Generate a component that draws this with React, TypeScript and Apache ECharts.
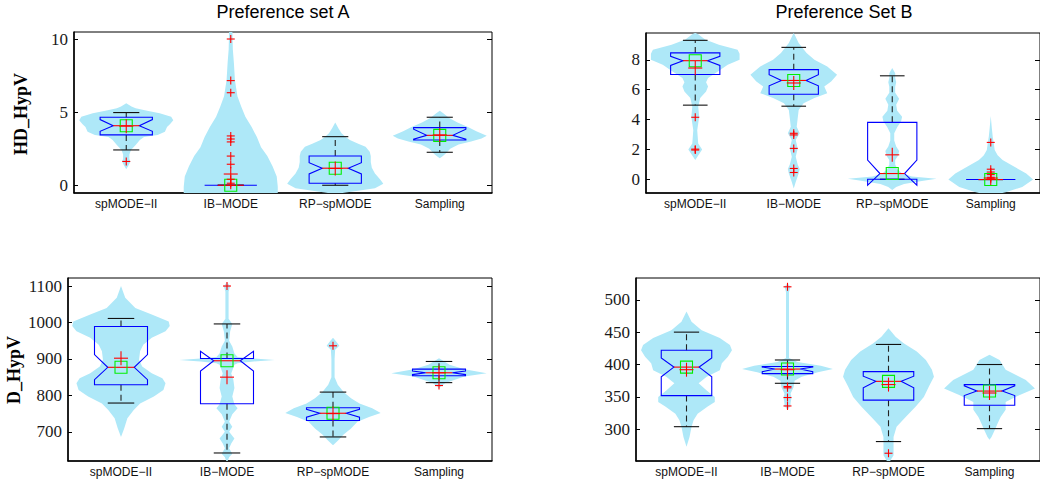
import React, { useEffect, useRef } from 'react';
import * as echarts from 'echarts';

const categories = ['spMODE−II', 'IB−MODE', 'RP−spMODE', 'Sampling'];

// box rows: [whiskerLow, q1, notchLow, median, notchHigh, q3, whiskerHigh]
const boxA = [
  [2.42, 3.45, 3.70, 4.08, 4.50, 4.66, 4.98],
  [0, 0, 0, 0, 0, 0, 0],
  [0, 0.14, 0.78, 1.17, 1.55, 2.0, 3.33],
  [2.26, 3.10, 3.16, 3.42, 3.84, 3.95, 4.66],
];
const meanA = [4.05, 0.77, 1.15, 3.45];
const outliersA = [[1.63], [10.02, 7.17, 6.34, 3.38, 3.17, 2.97, 2.0, 1.44, 0.41, 0.14, 0.0], [], []];
const violinA = [
  [[5.62, 0], [5.4, 0.05], [5.27, 0.09], [5.1, 0.2], [4.93, 0.32], [4.7, 0.43], [4.45, 0.45], [4.2, 0.42], [4.0, 0.39], [3.67, 0.37], [3.45, 0.3], [3.3, 0.17], [3.1, 0.13], [2.76, 0.09], [2.42, 0.045], [2.1, 0.03], [1.8, 0.03], [1.62, 0.04], [1.4, 0.025], [1.1, 0]],
  [[10.8, 0.015], [9.3, 0.02], [8.4, 0.03], [7.2, 0.04], [6.1, 0.064], [5.4, 0.1], [4.7, 0.14], [4.0, 0.2], [3.3, 0.25], [2.6, 0.29], [2.0, 0.35], [1.3, 0.4], [0.6, 0.44], [-0.1, 0.45], [-0.8, 0.45]],
  [[4.3, 0], [3.9, 0.03], [3.56, 0.06], [3.3, 0.1], [3.1, 0.14], [2.85, 0.22], [2.64, 0.29], [2.3, 0.33], [2.0, 0.34], [1.6, 0.34], [1.2, 0.35], [0.8, 0.38], [0.4, 0.43], [0.1, 0.46], [-0.2, 0.38], [-0.35, 0.25], [-0.5, 0.1], [-0.6, 0]],
  [[5.1, 0], [4.9, 0.04], [4.6, 0.09], [4.3, 0.17], [4.0, 0.27], [3.7, 0.35], [3.4, 0.45], [3.2, 0.4], [3.0, 0.3], [2.8, 0.18], [2.5, 0.1], [2.2, 0.06], [2.0, 0.03], [1.85, 0]],
];

const boxB = [
  [4.97, 7.02, 7.62, 7.94, 8.23, 8.46, 9.3],
  [4.9, 5.70, 6.26, 6.62, 7.0, 7.34, 8.83],
  [0.02, 0.02, -0.38, 0.4, 1.30, 3.82, 6.93],
  [0, 0, 0, 0, 0, 0, 0],
];
const meanB = [7.45, 6.45, 1.65, 0.1];
const outliersB = [[4.16, 2.03, 1.97], [3.09, 2.98, 2.08, 0.74, 0.47], [], [2.48, 0.69, 0.5, 0.33, 0.15, 0.05]];
const violinB = [
  [[9.8, 0], [9.7, 0.03], [9.36, 0.1], [9.0, 0.24], [8.67, 0.43], [8.4, 0.45], [8.0, 0.45], [7.67, 0.33], [7.22, 0.23], [6.78, 0.13], [6.5, 0.11], [6.21, 0.13], [5.88, 0.11], [5.44, 0.05], [4.87, 0.03], [4.2, 0.04], [3.3, 0.02], [2.4, 0.03], [2.0, 0.07], [1.6, 0.03], [1.3, 0]],
  [[9.8, 0], [9.13, 0.05], [8.46, 0.13], [8.0, 0.21], [7.56, 0.34], [7.0, 0.44], [6.55, 0.38], [6.21, 0.31], [5.77, 0.34], [5.44, 0.21], [5.1, 0.1], [4.65, 0.05], [4.1, 0.04], [3.53, 0.03], [3.1, 0.06], [2.64, 0.02], [2.08, 0.04], [1.52, 0.02], [1.0, 0.04], [0.7, 0.06], [0.4, 0.05], [-0.16, 0.02], [-0.6, 0]],
  [[7.45, 0], [7.1, 0.03], [6.8, 0.03], [6.5, 0.04], [6.2, 0.03], [5.8, 0.03], [5.4, 0.07], [5.0, 0.04], [4.6, 0.05], [4.2, 0.1], [3.9, 0.09], [3.5, 0.05], [3.1, 0.02], [2.6, 0.02], [2.2, 0.04], [1.9, 0.07], [1.6, 0.06], [1.3, 0.03], [1.0, 0.03], [0.7, 0.05], [0.4, 0.1], [0.2, 0.2], [0.05, 0.45], [-0.1, 0.3], [-0.3, 0.12], [-0.5, 0.04], [-0.7, 0]],
  [[4.25, 0], [3.5, 0.01], [2.86, 0.02], [2.45, 0.03], [1.97, 0.04], [1.63, 0.07], [1.3, 0.12], [0.85, 0.24], [0.4, 0.36], [0, 0.43], [-0.5, 0.32], [-0.83, 0.16], [-1.1, 0]],
];

const boxC = [
  [779, 829, 843, 877, 912, 989, 1011],
  [642, 777, 867, 895, 921, 901, 996],
  [686, 731, 740, 751, 762, 766, 809],
  [835, 854, 857, 862, 867, 872, 893],
];
const meanC = [902, 850, 750, 862];
const outliersC = [[], [1100], [936], [827]];
const violinC = [
  [[1100, 0], [1068, 0.04], [1040, 0.135], [1022, 0.29], [1003, 0.45], [990, 0.46], [976, 0.42], [958, 0.29], [939, 0.21], [921, 0.18], [898, 0.17], [879, 0.2], [861, 0.29], [847, 0.39], [833, 0.42], [815, 0.4], [797, 0.31], [778, 0.18], [760, 0.12], [737, 0.06], [709, 0.03], [686, 0]],
  [[1110, 0], [1100, 0.03], [1085, 0.015], [1010, 0.015], [996, 0.05], [976, 0.03], [950, 0.02], [934, 0.05], [915, 0.07], [905, 0.1], [901, 0.25], [897, 0.45], [893, 0.25], [888, 0.1], [884, 0.07], [860, 0.04], [843, 0.06], [820, 0.07], [797, 0.05], [776, 0.07], [765, 0.1], [748, 0.05], [728, 0.02], [714, 0.05], [700, 0.02], [682, 0.07], [668, 0.04], [655, 0.02], [640, 0.05], [630, 0.02], [615, 0]],
  [[958, 0], [948, 0.03], [936, 0.06], [925, 0.02], [900, 0.015], [850, 0.015], [829, 0.045], [809, 0.1], [792, 0.17], [778, 0.25], [765, 0.37], [752, 0.45], [741, 0.34], [728, 0.23], [709, 0.17], [693, 0.1], [677, 0.05], [663, 0]],
  [[902, 0], [884, 0.1], [872, 0.24], [861, 0.45], [852, 0.24], [843, 0.15], [834, 0.06], [820, 0]],
];

const boxD = [
  [304, 352, 381, 396, 410, 422, 450],
  [371, 386, 389, 393, 396, 397, 407],
  [281, 345, 364, 374, 382, 389, 431],
  [301, 337, 352, 359, 367, 369, 400],
];
const meanD = [392, 392, 369, 356];
const outliersD = [[], [520, 366, 364, 349, 336], [263], []];
const violinD = [
  [[482, 0], [466, 0.05], [453, 0.15], [441, 0.33], [430, 0.43], [422, 0.45], [412, 0.41], [402, 0.35], [391, 0.33], [381, 0.2], [371, 0.12], [360, 0.2], [350, 0.28], [342, 0.28], [335, 0.21], [324, 0.11], [314, 0.07], [304, 0.05], [288, 0.03], [273, 0]],
  [[525, 0], [520, 0.03], [512, 0.015], [410, 0.015], [404, 0.1], [398, 0.33], [393, 0.45], [388, 0.3], [381, 0.14], [375, 0.07], [365, 0.06], [355, 0.03], [349, 0.04], [340, 0.03], [336, 0.03], [330, 0]],
  [[456, 0], [443, 0.07], [433, 0.15], [420, 0.28], [407, 0.37], [392, 0.43], [381, 0.45], [366, 0.4], [350, 0.35], [335, 0.27], [319, 0.17], [304, 0.08], [288, 0.05], [273, 0.05], [260, 0.05], [252, 0.02], [245, 0]],
  [[415, 0], [407, 0.1], [392, 0.16], [376, 0.36], [363, 0.45], [353, 0.3], [342, 0.16], [330, 0.16], [319, 0.11], [309, 0.08], [298, 0.05], [288, 0.02], [284, 0]],
];

const ticksA = [0, 5, 10];
const ticksB = [0, 2, 4, 6, 8];
const ticksC = [700, 800, 900, 1000, 1100];
const ticksD = [300, 350, 400, 450, 500];

const titles = ['Preference set A', 'Preference Set B'];
const yNames = ['HD_HypV', 'D_HypV'];

const VIOLIN = '#aee8f8';
const BLUE = '#0000ff';
const RED = '#ff0000';
const GREEN = '#00ee00';

const panels = [
  { box: boxA, mean: meanA, out: outliersA, violin: violinA, ticks: ticksA, min: -0.53, max: 10.5, grid: { left: 74, right: 548, top: 32, bottom: 291 } },
  { box: boxB, mean: meanB, out: outliersB, violin: violinB, ticks: ticksB, min: -0.9, max: 9.79, grid: { left: 646, right: -2, top: 33, bottom: 291 } },
  { box: boxC, mean: meanC, out: outliersC, violin: violinC, ticks: ticksC, min: 620, max: 1122, grid: { left: 68, right: 548, top: 278, bottom: 23 } },
  { box: boxD, mean: meanD, out: outliersD, violin: violinD, ticks: ticksD, min: 251, max: 533.6, grid: { left: 636, right: -1, top: 278, bottom: 23 } },
];

function makeRender(p: any) {
  return (params: any, api: any) => {
    const i = params.dataIndex;
    const band = api.size([1, 0])[0];
    const cx = api.coord([i, p.box[i][3]])[0];
    const yy = (v: number) => api.coord([i, v])[1];
    const [wl, q1, nl, md, nh, q3, wh] = p.box[i];
    const bw = 0.25 * band;
    const nw = 0.125 * band;
    const children: any[] = [];

    const vio = p.violin[i];
    const right = vio.map((d: number[]) => [cx + d[1] * band, yy(d[0])]);
    const left = vio.slice().reverse().map((d: number[]) => [cx - d[1] * band, yy(d[0])]);
    children.push({ type: 'polygon', shape: { points: right.concat(left) }, style: { fill: VIOLIN, stroke: null } });

    const line = (x1: number, y1: number, x2: number, y2: number, style: any) => ({
      type: 'line', shape: { x1, y1, x2, y2 }, style,
    });
    const dash = { stroke: '#222', lineWidth: 1.1, lineDash: [6, 4] };
    const solid = { stroke: '#111', lineWidth: 1.1 };
    if (wh > q3) children.push(line(cx, yy(q3), cx, yy(wh), dash));
    if (wl < q1) children.push(line(cx, yy(q1), cx, yy(wl), dash));
    children.push(line(cx - nw, yy(wh), cx + nw, yy(wh), solid));
    children.push(line(cx - nw, yy(wl), cx + nw, yy(wl), solid));

    const boxPts = [
      [cx - bw, yy(q3)], [cx - bw, yy(nh)], [cx - nw, yy(md)], [cx - bw, yy(nl)], [cx - bw, yy(q1)],
      [cx + bw, yy(q1)], [cx + bw, yy(nl)], [cx + nw, yy(md)], [cx + bw, yy(nh)], [cx + bw, yy(q3)],
    ];
    children.push({ type: 'polygon', shape: { points: boxPts }, style: { fill: null, stroke: BLUE, lineWidth: 1.1 } });
    children.push(line(cx - nw, yy(md), cx + nw, yy(md), { stroke: RED, lineWidth: 1.1 }));

    const ym = yy(md);
    children.push({ type: 'rect', shape: { x: cx - 6, y: ym - 6, width: 12, height: 12 }, style: { fill: null, stroke: GREEN, lineWidth: 1.1 } });

    const plus = (v: number, s: number) => {
      const y = yy(v);
      children.push(line(cx - s, y, cx + s, y, { stroke: RED, lineWidth: 1.1 }));
      children.push(line(cx, y - s, cx, y + s, { stroke: RED, lineWidth: 1.1 }));
    };
    plus(p.mean[i], 7);
    p.out[i].forEach((v: number) => plus(v, 4));

    return { type: 'group', children };
  };
}

export default function App() {
  const ref = useRef<HTMLDivElement>(null);
  useEffect(() => {
    if (!ref.current) return;
    const chart = echarts.init(ref.current, null, { renderer: 'svg' });
    const grid = panels.map((p) => ({ ...p.grid, show: true, borderColor: '#000', borderWidth: 1, backgroundColor: 'transparent' }));
    const xAxis = panels.map((p, k) => ({
      gridIndex: k,
      type: 'category',
      data: categories,
      boundaryGap: true,
      position: 'bottom',
      axisTick: { show: false },
      axisLine: { show: true, onZero: false, lineStyle: { color: '#000', width: 1.5 } },
      axisLabel: { interval: 0, fontFamily: 'Liberation Sans', fontSize: 12, color: '#111', margin: 5 },
      splitLine: { show: false },
    }));
    const yLeft = panels.map((p, k) => ({
      gridIndex: k,
      type: 'value',
      min: p.min,
      max: p.max,
      position: 'left',
      axisLine: { show: true, onZero: false, lineStyle: { color: '#000', width: 1.5 } },
      axisTick: { show: true, inside: true, length: 4, customValues: p.ticks, lineStyle: { color: '#000' } },
      axisLabel: { customValues: p.ticks, formatter: (v: number) => String(v), fontFamily: 'Liberation Serif', fontSize: 17, color: '#1a1a1a', margin: 6 },
      splitLine: { show: false },
    }));
    const yRight = panels.map((p, k) => ({
      gridIndex: k,
      type: 'value',
      min: p.min,
      max: p.max,
      position: 'right',
      axisLine: { show: false, onZero: false },
      axisTick: { show: true, inside: true, length: 5, customValues: p.ticks, lineStyle: { color: '#000' } },
      axisLabel: { show: false },
      splitLine: { show: false },
    }));
    const series = panels.map((p, k) => ({
      type: 'custom',
      xAxisIndex: k,
      yAxisIndex: k,
      clip: true,
      data: categories.map((_, i) => [i, p.box[i][3]]),
      encode: { x: 0, y: 1 },
      renderItem: makeRender(p),
    }));
    const graphic = [
      { type: 'text', x: 283, y: 12, style: { text: titles[0], font: '18px "Liberation Sans"', textAlign: 'center', textVerticalAlign: 'middle', fill: '#000' } },
      { type: 'text', x: 844, y: 12, style: { text: titles[1], font: '18px "Liberation Sans"', textAlign: 'center', textVerticalAlign: 'middle', fill: '#000' } },
      { type: 'text', x: 21, y: 114, rotation: Math.PI / 2, style: { text: yNames[0], font: 'bold 18px "Liberation Serif"', textAlign: 'center', textVerticalAlign: 'middle', fill: '#000' } },
      { type: 'text', x: 14, y: 370, rotation: Math.PI / 2, style: { text: yNames[1], font: 'bold 18px "Liberation Serif"', textAlign: 'center', textVerticalAlign: 'middle', fill: '#000' } },
    ];
    chart.setOption({
      animation: false,
      grid,
      xAxis,
      yAxis: [...yLeft, ...yRight],
      series,
      graphic,
    });
    return () => chart.dispose();
  }, []);
  return <div ref={ref} style={{ position: 'absolute', left: 0, top: 0, width: 1040, height: 484, background: '#fff' }} />;
}
